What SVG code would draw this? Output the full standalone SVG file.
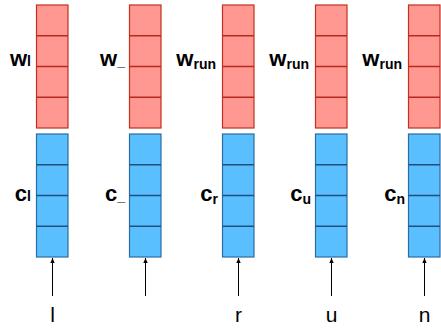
<svg xmlns="http://www.w3.org/2000/svg" width="441" height="330" viewBox="0 0 441 330">
<style>
.w{fill:#ff9891;stroke:#c4301f;stroke-width:1.2}
.wd{stroke:#b52a1c;stroke-width:1.5}
.c{fill:#59bfff;stroke:#2b6da3;stroke-width:1.2}
.cd{stroke:#1f4f7c;stroke-width:1.5}
.lab{font-family:"Liberation Sans",Arial,sans-serif;font-weight:bold;font-size:22px;fill:#000;text-anchor:end}
.sub{font-size:14px}
.in{font-family:"Liberation Sans",Arial,sans-serif;font-size:21px;fill:#000;text-anchor:middle}
.arr{stroke:#000;stroke-width:1;fill:none}
</style>
<defs>
<marker id="ah" viewBox="0 0 8 8" refX="8" refY="4" markerWidth="5" markerHeight="5" orient="auto">
<path d="M0,0.5 L8,4 L0,7.5 z" fill="#000"/>
</marker>
<g id="wbox">
<rect class="w" x="0" y="5" width="31.5" height="123"/>
<line class="wd" x1="0" y1="35.75" x2="31.5" y2="35.75"/>
<line class="wd" x1="0" y1="66.5" x2="31.5" y2="66.5"/>
<line class="wd" x1="0" y1="97.25" x2="31.5" y2="97.25"/>
</g>
<g id="cbox">
<rect class="c" x="0" y="134" width="31.5" height="123"/>
<line class="cd" x1="0" y1="164.75" x2="31.5" y2="164.75"/>
<line class="cd" x1="0" y1="195.5" x2="31.5" y2="195.5"/>
<line class="cd" x1="0" y1="226.25" x2="31.5" y2="226.25"/>
</g>
</defs>
<g id="col1">
<use href="#wbox" x="36.5"/><use href="#cbox" x="36.5"/>
<text class="lab" x="31" y="66">w<tspan class="sub">l</tspan></text>
<text class="lab" x="31" y="200.5">c<tspan class="sub">l</tspan></text>
<text class="in" x="52.5" y="322">l</text>
</g>
<g id="col2">
<use href="#wbox" x="129.5"/><use href="#cbox" x="129.5"/>
<text class="lab" x="125" y="66">w<tspan class="sub">_</tspan></text>
<text class="lab" x="125" y="200.5">c<tspan class="sub">_</tspan></text>
</g>
<g id="col3">
<use href="#wbox" x="222.5"/><use href="#cbox" x="222.5"/>
<text class="lab" x="216" y="66">w<tspan class="sub" dy="3">run</tspan></text>
<text class="lab" x="218" y="200.5">c<tspan class="sub" dy="3">r</tspan></text>
<text class="in" x="238.5" y="322">r</text>
</g>
<g id="col4">
<use href="#wbox" x="315.5"/><use href="#cbox" x="315.5"/>
<text class="lab" x="309" y="66">w<tspan class="sub" dy="3">run</tspan></text>
<text class="lab" x="311" y="200.5">c<tspan class="sub" dy="3">u</tspan></text>
<text class="in" x="331.5" y="322">u</text>
</g>
<g id="col5">
<use href="#wbox" x="408.5"/><use href="#cbox" x="408.5"/>
<text class="lab" x="402" y="66">w<tspan class="sub" dy="3">run</tspan></text>
<text class="lab" x="405" y="200.5">c<tspan class="sub" dy="3">n</tspan></text>
<text class="in" x="424.5" y="322">n</text>
</g>
<g id="connectors">
<line class="arr" x1="52.5" y1="296" x2="52.5" y2="258" marker-end="url(#ah)"/>
<line class="arr" x1="145.5" y1="296" x2="145.5" y2="258" marker-end="url(#ah)"/>
<line class="arr" x1="238.5" y1="296" x2="238.5" y2="258" marker-end="url(#ah)"/>
<line class="arr" x1="331.5" y1="296" x2="331.5" y2="258" marker-end="url(#ah)"/>
<line class="arr" x1="424.5" y1="296" x2="424.5" y2="258" marker-end="url(#ah)"/>
</g>
</svg>
